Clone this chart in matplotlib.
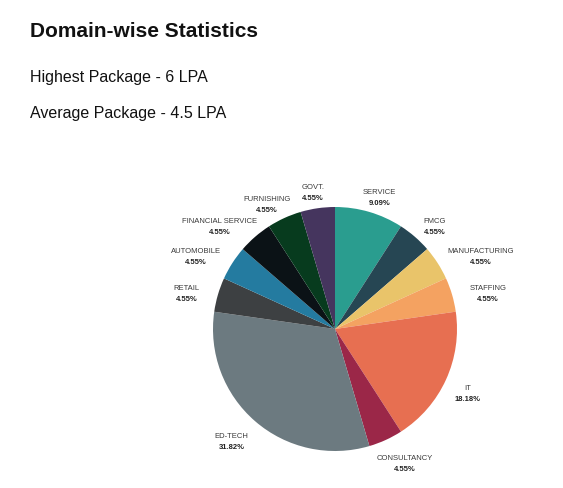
import matplotlib
matplotlib.use('Agg')
import numpy as np
import matplotlib.pyplot as plt
from matplotlib.transforms import offset_copy

# Domain-wise placement share (clockwise from top)
domains = ["SERVICE", "FMCG", "MANUFACTURING", "STAFFING", "IT", "CONSULTANCY",
           "ED-TECH", "RETAIL", "AUTOMOBILE", "FINANCIAL SERVICE", "FURNISHING", "GOVT."]
shares = [9.09, 4.55, 4.55, 4.55, 18.18, 4.55, 31.82, 4.55, 4.55, 4.55, 4.55, 4.55]
colors = ["#2a9d8f", "#264653", "#e9c46a", "#f4a261", "#e76f51", "#9b2748",
          "#6c7a80", "#3d4042", "#247ba0", "#0b1216", "#073b1e", "#45355e"]

title = "Domain-wise Statistics"
stats = ["Highest Package - 6 LPA", "Average Package - 4.5 LPA"]

W, H = 563, 489
fig = plt.figure(figsize=(W / 100, H / 100), dpi=100)
plt.rcParams['font.family'] = ['Liberation Sans', 'DejaVu Sans']

fig.text(30 / W, 1 - 37 / H, title, fontsize=15, fontweight='bold', color='#111111')
fig.text(30 / W, 1 - 82 / H, stats[0], fontsize=11.5, color='#111111')
fig.text(30 / W, 1 - 118 / H, stats[1], fontsize=11.5, color='#111111')

# pie axes: center (335, 330), radius ~122 px
r = 122
ax = fig.add_axes([(335 - r) / W, 1 - (330 + r) / H, 2 * r / W, 2 * r / H])
wedges, texts = ax.pie(shares, colors=colors, startangle=90, counterclock=False,
                       labels=[""] * len(shares), labeldistance=1.17)
ax.set_xlim(-1, 1)
ax.set_ylim(-1, 1)
ax.set_aspect('equal')

fig.canvas.draw()
renderer = fig.canvas.get_renderer()
pt = 72 / 100  # points per pixel
for w, t, name, val in zip(wedges, texts, domains, shares):
    x, y = t.get_position()
    ang = np.deg2rad((w.theta1 + w.theta2) / 2)
    t1 = ax.text(x, y, name, ha='center', va='center', fontsize=5.5, color='#3a3a3a')
    t2 = ax.text(x, y, f"{val:.2f}%", ha='center', va='center', fontsize=5.5,
                 fontweight='bold', color='#222222')
    wpx = t1.get_window_extent(renderer).width
    shift = 0.45 * wpx * np.cos(ang) * pt
    t1.set_transform(offset_copy(ax.transData, fig=fig, x=shift, y=1 * pt, units='points'))
    t2.set_transform(offset_copy(ax.transData, fig=fig, x=shift, y=-10 * pt, units='points'))

fig.savefig("out.png", dpi=100, facecolor='white')
